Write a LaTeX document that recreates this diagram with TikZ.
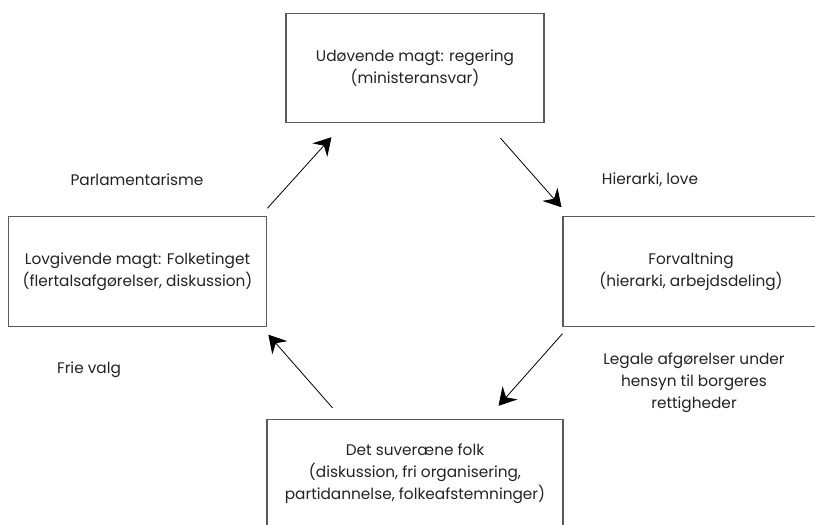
\documentclass[tikz,border=0pt]{standalone}
\usepackage{fontspec}
\setmainfont{Poppins}
\usepackage{tikz}
\usetikzlibrary{arrows.meta,positioning}
\definecolor{boxgray}{RGB}{90,90,90}
\definecolor{txtgray}{RGB}{35,35,35}

\begin{document}
\begin{tikzpicture}[x=0.75pt, y=-0.75pt,
  box/.style={draw=boxgray, line width=0.8pt, minimum height=82pt, font=\fontsize{11.5}{16.5}\selectfont, text=txtgray, align=center},
  lbl/.style={font=\fontsize{11.5}{16.5}\selectfont, text=txtgray, align=center},
  pil/.style={-{Stealth[length=13pt, width=15pt, inset=4.5pt]}, line width=0.6pt, black}]
\clip (0,0) rectangle (815,525);
\useasboundingbox (0,0) rectangle (815,525);
\node[box, minimum width=193.5pt] (udo) at (415,68) {Udøvende magt: regering\\(ministeransvar)};
\node[box, minimum width=194pt] (lov) at (137.5,271.5) {Lovgivende magt: Folketinget\\(flertalsafgørelser, diskussion)};
\node[box, minimum width=192pt] (forv) at (691,271.5) {Forvaltning\\(hierarki, arbejdsdeling)};
\node[box, minimum width=222pt] (folk) at (415,474) {Det suveræne folk\\(diskussion, fri organisering,\\partidannelse, folkeafstemninger)};
\node[lbl] (parl) at (137,180) {Parlamentarisme};
\node[lbl] (hier) at (650,180) {Hierarki, love};
\node[lbl] (frie) at (89,370) {Frie valg};
\node[lbl] (legal) at (694,383) {Legale afgørelser under\\hensyn til borgeres\\rettigheder};
\draw[pil] ([shift={(0,-8)}]lov.north east) -- ([shift={(46,14)}]udo.south west);
\draw[pil] ([shift={(-44,15)}]udo.south east) -- ([shift={(-1,-9)}]forv.north west);
\draw[pil] ([shift={(0,7)}]forv.south west) -- ([shift={(-65,-13)}]folk.north east);
\draw[pil] ([shift={(66,-11)}]folk.north west) -- ([shift={(1,8)}]lov.south east);
\end{tikzpicture}
\end{document}
